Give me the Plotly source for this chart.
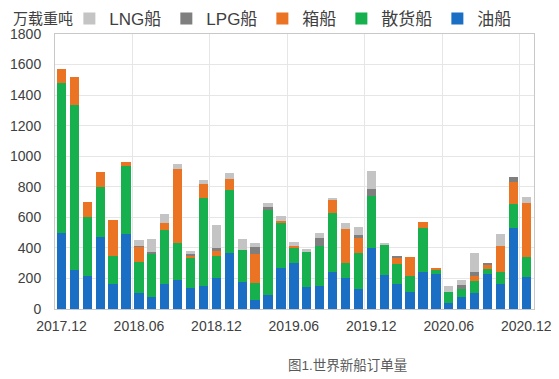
import plotly.graph_objects as go

months = ["2017.12", "2018.01", "2018.02", "2018.03", "2018.04", "2018.05", "2018.06",
          "2018.07", "2018.08", "2018.09", "2018.10", "2018.11", "2018.12",
          "2019.01", "2019.02", "2019.03", "2019.04", "2019.05", "2019.06",
          "2019.07", "2019.08", "2019.09", "2019.10", "2019.11", "2019.12",
          "2020.01", "2020.02", "2020.03", "2020.04", "2020.05", "2020.06",
          "2020.07", "2020.08", "2020.09", "2020.10", "2020.11", "2020.12"]

oil = [500, 255, 218, 473, 164, 491, 103, 81, 162, 190, 135, 151, 205,
       369, 179, 59, 92, 266, 299, 147, 153, 240, 205, 129, 401,
       223, 162, 113, 245, 228, 37, 81, 107, 229, 164, 528, 211]
bulk = [977, 1080, 386, 328, 185, 445, 207, 277, 355, 244, 203, 578, 142,
        410, 207, 109, 556, 300, 105, 228, 259, 386, 94, 240, 339,
        200, 131, 103, 288, 27, 76, 48, 76, 31, 76, 157, 127]
container = [92, 181, 98, 98, 234, 26, 98, 0, 44, 480, 10, 87, 39,
             70, 0, 190, 0, 10, 10, 0, 0, 87, 223, 98, 0,
             0, 45, 126, 39, 15, 0, 0, 33, 28, 174, 144, 354]
lpg = [0, 0, 0, 0, 0, 0, 5, 17, 0, 0, 10, 0, 11,
       0, 0, 50, 22, 0, 0, 0, 50, 0, 0, 17, 48,
       0, 9, 0, 0, 0, 0, 28, 29, 16, 0, 37, 0]
lng = [0, 0, 0, 0, 0, 0, 40, 81, 59, 35, 22, 28, 153,
       39, 72, 22, 26, 35, 22, 18, 38, 16, 39, 51, 117,
       11, 0, 0, 0, 0, 38, 33, 120, 0, 77, 0, 39]

y_ticks = [0, 200, 400, 600, 800, 1000, 1200, 1400, 1600, 1800]

series = [
    ("油船", oil, "#1a6fc4"),
    ("散货船", bulk, "#16b04f"),
    ("箱船", container, "#ea7424"),
    ("LPG船", lpg, "#7f7f7f"),
    ("LNG船", lng, "#c4c4c4"),
]

x = list(range(len(months)))
tick_idx = x[::6]

fig = go.Figure()
for name, vals, color in series:
    fig.add_trace(go.Bar(x=x, y=vals, name=name, marker_color=color,
                         marker_line_width=0, width=0.72))

font_family = "Liberation Sans, Arial, Noto Sans CJK SC, sans-serif"

# page body has an 8px default margin, so the figure is sized to fit beside it
fig.update_layout(
    barmode="stack",
    width=551, height=371,
    margin=dict(l=47, r=25, t=26, b=70, autoexpand=False),
    paper_bgcolor="white", plot_bgcolor="white",
    font=dict(family=font_family, color="#404040", size=14),
    legend=dict(orientation="h", traceorder="reversed",
                x=0.03, xanchor="left", y=1.055, yanchor="middle",
                font=dict(size=17, color="#404040"),
                itemwidth=30, bgcolor="rgba(0,0,0,0)"),
    showlegend=True,
    annotations=[
        dict(text="万载重吨", xref="paper", yref="paper", x=-0.092, y=1.055,
             xanchor="left", yanchor="middle", showarrow=False,
             font=dict(size=15, color="#404040")),
        dict(text="图1.世界新船订单量", xref="paper", yref="paper", x=0.61, y=-0.207,
             xanchor="center", yanchor="middle", showarrow=False,
             font=dict(size=13.5, color="#595959")),
    ],
)

fig.update_xaxes(
    range=[-0.5, 36.6], automargin=False,
    tickmode="array", tickvals=tick_idx, ticktext=[months[i] for i in tick_idx],
    ticks="", showgrid=False, ticklabelstandoff=4,
    minor=dict(showgrid=True, tick0=5.5, dtick=6, gridcolor="#e6e6e6", gridwidth=1, ticks=""),
    showline=True, linecolor="#c8c8c8", linewidth=1, mirror=True,
    zeroline=False, tickfont=dict(size=14, color="#404040"),
)
fig.update_yaxes(
    range=[0, 1800], tickmode="array", tickvals=y_ticks, automargin=False,
    showgrid=True, gridcolor="#e6e6e6", gridwidth=1,
    showline=True, linecolor="#c8c8c8", linewidth=1, mirror=True,
    zeroline=False, ticks="", ticklabelstandoff=10,
    tickfont=dict(size=14, color="#404040"),
)

fig.write_html("out.html")
